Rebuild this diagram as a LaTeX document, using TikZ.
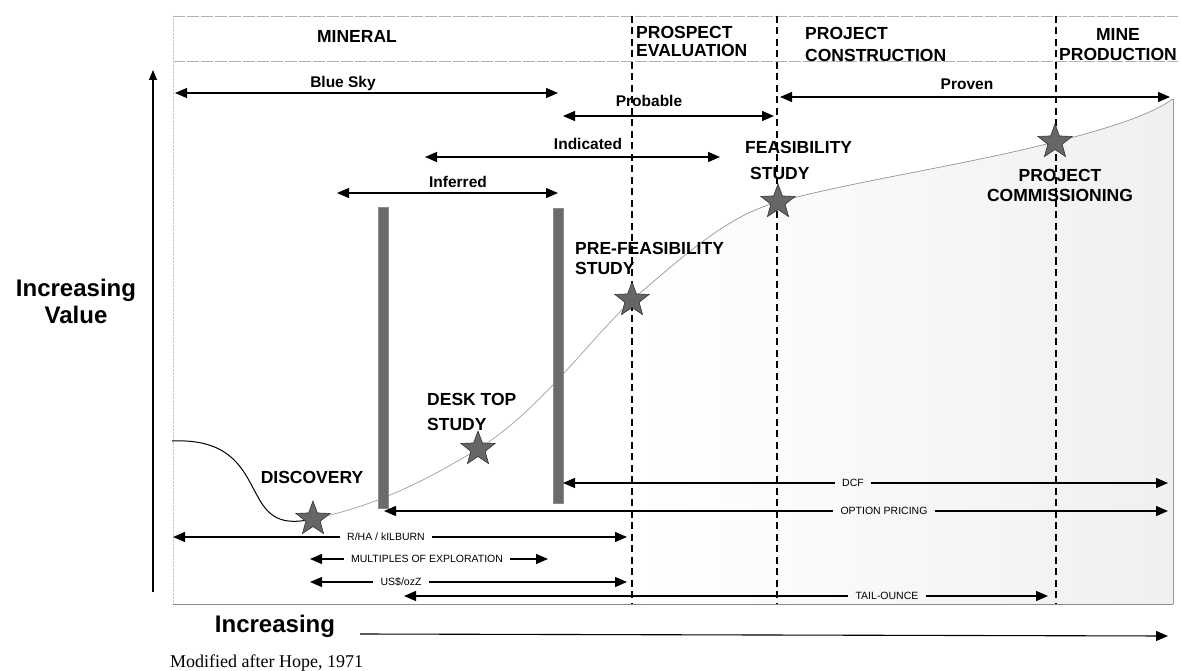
\documentclass[tikz,border=0pt]{standalone}
\usepackage{fontspec}
\setmainfont{Liberation Sans}
\newfontfamily\serifnote{Liberation Serif}
\usetikzlibrary{arrows.meta,shapes.geometric}

\begin{document}
\begin{tikzpicture}[
    x=1pt, y=-1pt,
    every node/.style={inner sep=0pt},
    phase/.style={font=\fontsize{17.5}{20}\selectfont\bfseries},
    stagelbl/.style={font=\fontsize{17.5}{20}\selectfont\bfseries},
    resourcelbl/.style={font=\fontsize{15.5}{18}\selectfont\bfseries, anchor=base},
    methodlbl/.style={font=\fontsize{10.5}{12}\selectfont, inner xsep=7pt},
    axislbl/.style={font=\fontsize{24}{27}\selectfont\bfseries},
    milestone/.style={star, star points=5, star point ratio=2.4, minimum size=36pt, fill=black!60, draw=black!80, line width=0.6pt},
    spanarrow/.style={{Triangle[length=12pt,width=10pt]}-{Triangle[length=12pt,width=10pt]}, line width=1.3pt},
    tipl/.style={{Triangle[length=12pt,width=10pt]}-, line width=1.3pt},
    tipr/.style={-{Triangle[length=12pt,width=10pt]}, line width=1.3pt},
    stagegate/.style={dash pattern=on 7pt off 4.5pt, line width=1.2pt},
    panelline/.style={black!30, line width=0.6pt, dash pattern=on 12pt off 2pt},
    drillbar/.style={fill=black!58, draw=black!45, line width=0.4pt},
    valuecurve/.style={black!38, line width=0.7pt}
]
\useasboundingbox (0,0) rectangle (1181,671);

\coordinate (c-disc) at (313,519);
\coordinate (c-desk) at (478,449);
\coordinate (c-pfs) at (632,300);
\coordinate (c-fs) at (778,202);
\coordinate (c-comm) at (1055,142);
\coordinate (c-end) at (1173,99);

\fill[left color=white, right color=black!6] (c-pfs) .. controls (690,250) and (730,215) .. (c-fs) .. controls (850,182) and (960,166) .. (c-comm) .. controls (1110,128) and (1150,115) .. (c-end) -- (1173,604) -- (632,604) -- cycle;

\draw[panelline] (173,16) -- (1178,16);
\draw[panelline] (173,61) -- (1178,61);
\draw[black!22, densely dotted] (173,16) -- (173,604);
\draw[black!45, line width=0.7pt] (173,604) -- (1173,604);
\draw[black!40, line width=0.6pt] (c-end) -- (1173,604);

\draw[line width=1pt] (172,441) .. controls (235,438) and (245,475) .. (258,497) .. controls (270,520) and (285,525) .. (c-disc);
\draw[valuecurve] (c-disc) .. controls (380,505) and (430,478) .. (c-desk) .. controls (540,410) and (585,345) .. (c-pfs) .. controls (690,250) and (730,215) .. (c-fs) .. controls (850,182) and (960,166) .. (c-comm) .. controls (1110,128) and (1150,115) .. (c-end);

\coordinate (pe-t) at (632,16);   \coordinate (pe-b) at (632,604);
\coordinate (pc-t) at (777,16);   \coordinate (pc-b) at (777,604);
\coordinate (mp-t) at (1056,16);  \coordinate (mp-b) at (1056,604);
\draw[stagegate] (pe-t) -- (pe-b);
\draw[stagegate] (pc-t) -- (pc-b);
\draw[stagegate] (mp-t) -- (mp-b);

\fill[drillbar] (378,207) rectangle (388,508);
\fill[drillbar] (553,208) rectangle (563,503);

\node[phase, anchor=base] (mineral) at (357,43) {MINERAL};
\node[phase, align=left, anchor=west, font=\fontsize{17.5}{18}\selectfont\bfseries] (prospect) at (636,41) {PROSPECT\\EVALUATION};
\node[phase, align=left, anchor=west, font=\fontsize{17.5}{22}\selectfont\bfseries] (construction) at (805,44) {PROJECT\\CONSTRUCTION};
\node[phase, align=center] (production) at (1118,45) {MINE\\PRODUCTION};

\coordinate (bs-l) at (175,93);   \coordinate (bs-r) at (558,93);
\coordinate (pb-l) at (563,116);  \coordinate (pb-r) at (774,116);
\coordinate (pv-l) at (780,97);   \coordinate (pv-r) at (1170,97);
\coordinate (id-l) at (425,157);  \coordinate (id-r) at (720,157);
\coordinate (if-l) at (337,193);  \coordinate (if-r) at (558,193);
\node[resourcelbl] (bluesky) at (343,88) {Blue Sky};
\node[resourcelbl] (probable) at (649,107) {Probable};
\node[resourcelbl] (proven) at (967,90) {Proven};
\node[resourcelbl] (indicated) at (588,150) {Indicated};
\node[resourcelbl] (inferred) at (458,188) {Inferred};
\draw[spanarrow] (bs-l) -- (bs-r);
\draw[spanarrow] (pb-l) -- (pb-r);
\draw[spanarrow] (pv-l) -- (pv-r);
\draw[spanarrow] (id-l) -- (id-r);
\draw[spanarrow] (if-l) -- (if-r);

\coordinate (dcf-l) at (563,483);  \coordinate (dcf-r) at (1168,483);
\coordinate (op-l) at (384,511);   \coordinate (op-r) at (1168,511);
\coordinate (rha-l) at (173,537);  \coordinate (rha-r) at (627,537);
\coordinate (mx-l) at (310,559);   \coordinate (mx-r) at (548,559);
\coordinate (us-l) at (310,582);   \coordinate (us-r) at (627,582);
\coordinate (to-l) at (404,596);   \coordinate (to-r) at (1048,596);
\node[methodlbl] (dcf) at (853,483) {DCF};
\node[methodlbl] (optpricing) at (884,511) {OPTION PRICING};
\node[methodlbl] (rha) at (386,537) {R/HA / kILBURN};
\node[methodlbl] (multiples) at (427,559) {MULTIPLES OF EXPLORATION};
\node[methodlbl] (usoz) at (401,582) {US\$/ozZ};
\node[methodlbl] (tailounce) at (887,596) {TAIL-OUNCE};
\draw[tipl] (dcf-l) -- (dcf.west);        \draw[tipr] (dcf.east) -- (dcf-r);
\draw[tipl] (op-l) -- (optpricing.west);  \draw[tipr] (optpricing.east) -- (op-r);
\draw[tipl] (rha-l) -- (rha.west);        \draw[tipr] (rha.east) -- (rha-r);
\draw[tipl] (mx-l) -- (multiples.west);   \draw[tipr] (multiples.east) -- (mx-r);
\draw[tipl] (us-l) -- (usoz.west);        \draw[tipr] (usoz.east) -- (us-r);
\draw[tipl] (to-l) -- (tailounce.west);   \draw[tipr] (tailounce.east) -- (to-r);

\node[milestone] (s-disc) at (c-disc) {};
\node[milestone] (s-desk) at (c-desk) {};
\node[milestone] (s-pfs) at (c-pfs) {};
\node[milestone] (s-fs) at (c-fs) {};
\node[milestone] (s-comm) at (c-comm) {};

\node[stagelbl, anchor=base] (discovery) at (312,483) {DISCOVERY};
\node[stagelbl, align=left, anchor=west, font=\fontsize{17.5}{25}\selectfont\bfseries] (desktop) at (427,412) {DESK TOP\\STUDY};
\node[stagelbl, align=left, anchor=west] (prefeas) at (575,258) {PRE-FEASIBILITY\\STUDY};
\node[stagelbl, align=left, anchor=west, font=\fontsize{17.5}{26}\selectfont\bfseries] (feas) at (745,160) {FEASIBILITY\\\hspace*{5pt}STUDY};
\node[stagelbl, align=center] (commissioning) at (1060,185) {PROJECT\\COMMISSIONING};

\coordinate (y0) at (153,592);  \coordinate (y1) at (153,70);
\draw[-{Triangle[length=10pt,width=8pt]}, line width=1.1pt] (y0) -- (y1);
\node[axislbl, align=center] (valuelbl) at (76,301) {Increasing\\Value};

\node[axislbl, anchor=base] (timelbl) at (275,632) {Increasing};
\coordinate (x0) at (360,634);  \coordinate (x1) at (1168,636);
\draw[tipr, line width=1.1pt] (x0) -- (x1);

\node[font=\serifnote\fontsize{18}{20}\selectfont, anchor=base west] (source) at (170,667) {Modified after Hope, 1971};
\end{tikzpicture}
\end{document}
